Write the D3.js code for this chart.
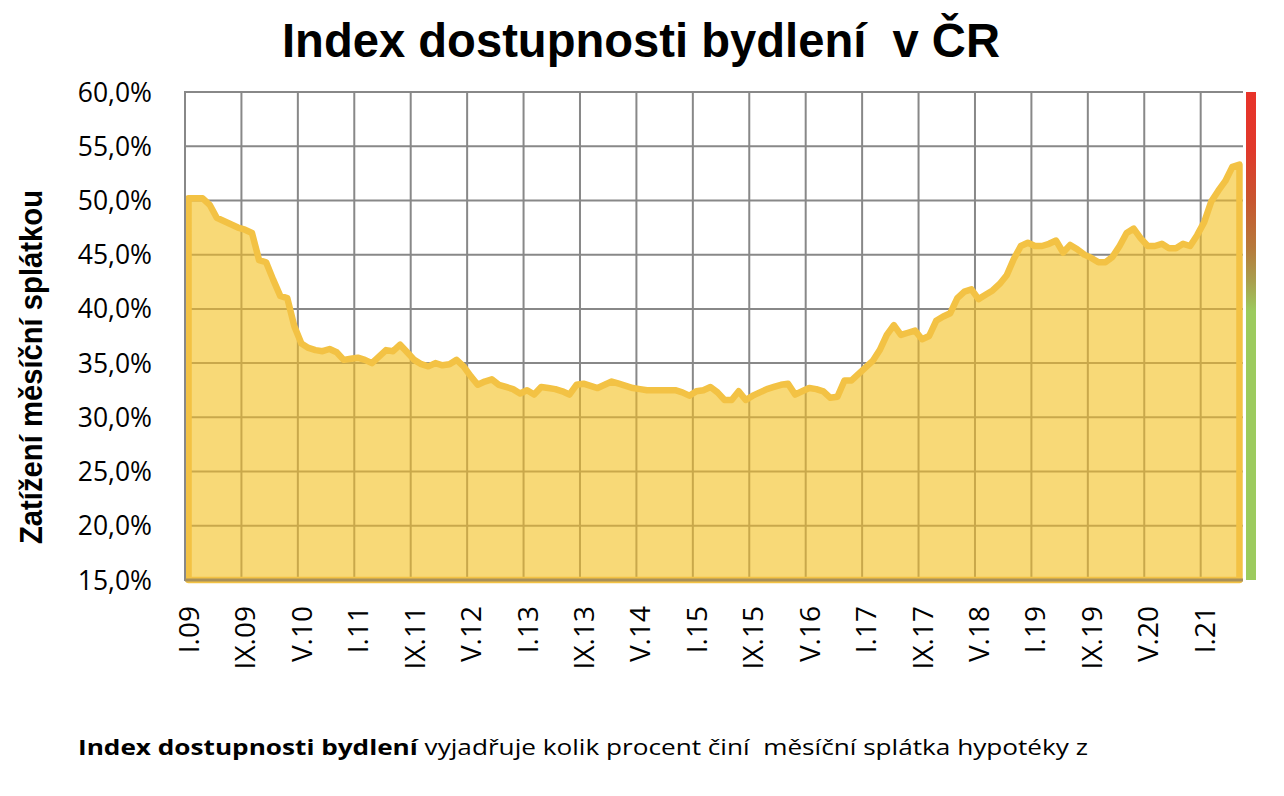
<!DOCTYPE html>
<html><head><meta charset="utf-8">
<script src="https://cdn.jsdelivr.net/npm/d3@7"></script>
<style>body{margin:0;background:#fff}text{white-space:pre}</style>
</head><body><svg id="c" width="1284" height="796"></svg>
<script>
// Data: monthly index, I.2009 .. VI.2021
const monthNames = ["I","II","III","IV","V","VI","VII","VIII","IX","X","XI","XII"];
const startYear = 2009;
const values = [
50.2,50.2,50.2,49.6,48.4,48.1,47.8,47.5,47.3,47.0,
44.5,44.3,42.7,41.2,41.0,38.4,36.8,36.4,36.2,36.1,
36.3,36.0,35.3,35.4,35.5,35.3,35.0,35.6,36.2,36.1,
36.7,36.0,35.3,34.9,34.7,35.0,34.8,34.9,35.3,34.7,
33.8,33.0,33.3,33.5,33.0,32.8,32.6,32.2,32.5,32.1,
32.8,32.7,32.6,32.4,32.1,33.0,33.1,32.9,32.7,33.0,
33.3,33.1,32.9,32.7,32.6,32.5,32.5,32.5,32.5,32.5,
32.3,32.0,32.4,32.5,32.8,32.3,31.6,31.6,32.4,31.6,
32.0,32.3,32.6,32.8,33.0,33.1,32.1,32.4,32.7,32.6,
32.4,31.8,31.9,33.4,33.4,34.0,34.6,35.2,36.2,37.6,
38.5,37.6,37.8,38.0,37.2,37.5,38.9,39.3,39.6,41.0,
41.6,41.8,40.9,41.3,41.7,42.3,43.1,44.6,45.8,46.1,
45.8,45.8,46.0,46.3,45.2,45.9,45.5,45.0,44.7,44.3,
44.3,44.8,45.8,47.0,47.4,46.5,45.8,45.8,46.0,45.6,
45.6,46.0,45.8,46.8,48.0,49.9,50.9,51.8,53.1,53.3
];
const categories = values.map((v,i)=> monthNames[i%12] + "." + String((startYear + Math.floor(i/12))%100).padStart(2,"0"));
const tickEvery = 8;
const yTicks = [15,20,25,30,35,40,45,50,55,60];
const titleText = "Index dostupnosti bydlení  v ČR";
const yTitle = "Zatížení měsíční splátkou";
const noteBold = "Index dostupnosti bydlení";
const noteRest = " vyjadřuje kolik procent činí  měsíční splátka hypotéky z";

const svg = d3.select("#c");
const L = 185, R = 1243, T = 92, B = 580;
const x = d3.scaleBand().domain(d3.range(values.length)).range([L, R]).paddingInner(0).paddingOuter(0);
const y = d3.scaleLinear().domain([15, 60]).range([B, T]);
const cx = i => x(i) + x.bandwidth()/2;
const vt = d3.range(0, values.length, tickEvery);
const area = d3.area().x((d,i)=>cx(i)).y0(B).y1(d=>y(d));

function grid(sel, color) {
  sel.selectAll(".hg").data(yTicks).join("line")
    .attr("x1", L).attr("x2", R).attr("y1", d=>y(d)).attr("y2", d=>y(d))
    .attr("stroke", color).attr("stroke-width", 2);
  sel.selectAll(".vg").data(vt).join("line")
    .attr("x1", d=>x(d)).attr("x2", d=>x(d)).attr("y1", T).attr("y2", B)
    .attr("stroke", color).attr("stroke-width", 2);
}

const defs = svg.append("defs");
defs.append("clipPath").attr("id","ac").append("path").datum(values).attr("d", area);

// gray gridlines
grid(svg.append("g"), "#888");
// area fill
svg.append("path").datum(values).attr("d", area).attr("fill", "#F8D977");
// tan gridlines inside area
grid(svg.append("g").attr("clip-path","url(#ac)"), "#C9A84B");
// area outline
svg.append("path").datum(values).attr("d", area)
  .attr("fill", "none")
  .attr("stroke", "#F3C244").attr("stroke-width", 6.5).attr("stroke-linejoin", "round");

// axis lines
svg.append("line").attr("x1", L).attr("x2", L).attr("y1", T-1).attr("y2", B+1).attr("stroke", "#888").attr("stroke-width", 2);
svg.append("line").attr("x1", L).attr("x2", R).attr("y1", B).attr("y2", B).attr("stroke", "#A8905A").attr("stroke-width", 3);

// color bar
const lg = defs.append("linearGradient").attr("id","cb").attr("x1",0).attr("x2",0).attr("y1",0).attr("y2",1);
[[0,"#E8332A"],[0.12,"#E0392B"],[0.22,"#C8552F"],[0.32,"#B67A3B"],[0.39,"#A8A04E"],[0.45,"#9CCB5E"],[1,"#9CCB5E"]]
  .forEach(([o,c])=>lg.append("stop").attr("offset",o).attr("stop-color",c));
svg.append("rect").attr("x", 1246).attr("y", T).attr("width", 10).attr("height", B-T).attr("fill","url(#cb)");

// y tick labels
svg.selectAll(".yl").data(yTicks).join("text")
  .attr("x", 152).attr("y", d=>y(d)).attr("dy","0.36em")
  .attr("text-anchor","end").attr("font-family","'Open Sans', sans-serif").attr("font-size", 26.5)
  .attr("fill","#000")
  .text(d=> d3.format(".1f")(d).replace(".", ",") + "%");

// x tick labels
svg.selectAll(".xl").data(vt).join("text")
  .attr("transform", d=>`translate(${cx(d)+10.5},606) rotate(-90)`)
  .attr("text-anchor","end").attr("font-family","'Open Sans', sans-serif").attr("font-size", 28)
  .attr("fill","#000")
  .text(d=>categories[d]);

// title
svg.append("text").attr("x", 641).attr("y", 57).attr("text-anchor","middle")
  .attr("font-family","'Liberation Sans Narrow','Liberation Sans',Arial,sans-serif").attr("font-weight","bold")
  .attr("font-size", 48).attr("textLength", 718).attr("lengthAdjust","spacingAndGlyphs")
  .text(titleText);

// y title
svg.append("text").attr("transform","translate(42,367) rotate(-90)").attr("text-anchor","middle")
  .attr("font-family","'Liberation Sans Narrow','Liberation Sans',Arial,sans-serif").attr("font-weight","bold")
  .attr("font-size", 31).attr("textLength", 354).attr("lengthAdjust","spacingAndGlyphs")
  .text(yTitle);

// footnote
const fn = svg.append("text").attr("x", 78).attr("y", 755)
  .attr("font-family","'Open Sans', sans-serif").attr("font-size", 22)
  .attr("textLength", 1010).attr("lengthAdjust","spacingAndGlyphs");
fn.append("tspan").attr("font-weight","bold").text(noteBold);
fn.append("tspan").text(noteRest);
</script></body></html>
